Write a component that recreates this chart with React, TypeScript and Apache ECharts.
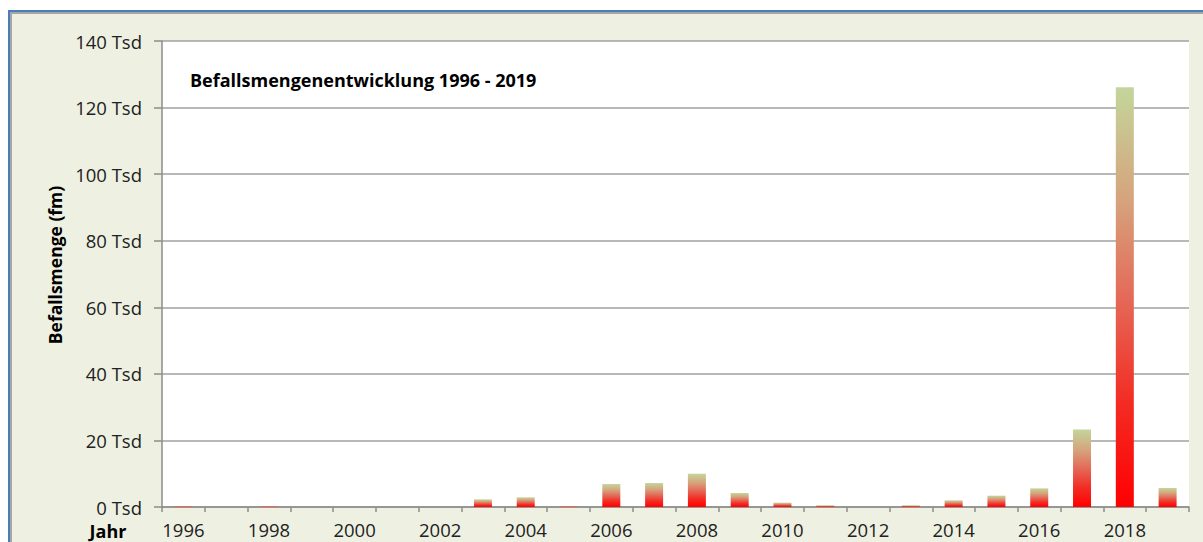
import React, { useEffect, useRef } from "react";
import * as echarts from "echarts";

const years = [
  "1996", "1997", "1998", "1999", "2000", "2001", "2002", "2003", "2004", "2005", "2006", "2007",
  "2008", "2009", "2010", "2011", "2012", "2013", "2014", "2015", "2016", "2017", "2018", "2019",
];
const befallsmenge = [
  300, 0, 300, 0, 0, 0, 0, 2300, 2900, 300, 6900, 7200,
  10000, 4200, 1300, 500, 0, 500, 2000, 3400, 5600, 23300, 126100, 5700,
];
const yTicks = [0, 20000, 40000, 60000, 80000, 100000, 120000, 140000];
const titleText = "Befallsmengenentwicklung 1996 - 2019";
const yAxisName = "Befallsmenge (fm)";
const xAxisName = "Jahr";

const FONT = "'Open Sans', 'Noto Sans', sans-serif";

export default function App() {
  const ref = useRef<HTMLDivElement>(null);
  useEffect(() => {
    if (!ref.current) return;
    const chart = echarts.init(ref.current, null, { renderer: "svg" });
    const barColor = new echarts.graphic.LinearGradient(0, 0, 0, 1, [
      { offset: 0, color: "#c3d69b" },
      { offset: 0.27, color: "#d6a37c" },
      { offset: 0.5, color: "#e46a58" },
      { offset: 0.75, color: "#f32c24" },
      { offset: 1, color: "#ff0000" },
    ]);
    chart.setOption({
      animation: false,
      backgroundColor: "#ffffff",
      graphic: [
        { type: "rect", z: -10, silent: true, shape: { x: 8, y: 10, width: 1195, height: 532 }, style: { fill: "#4a7ebb" } },
        { type: "rect", z: -9, silent: true, shape: { x: 10, y: 12, width: 1193, height: 530 }, style: { fill: "#a6a6a6" } },
        { type: "rect", z: -8, silent: true, shape: { x: 12, y: 14, width: 1191, height: 528 }, style: { fill: "#eef1e1" } },
        {
          type: "text",
          x: 190,
          y: 80,
          style: { text: titleText, font: `bold 18px ${FONT}`, fill: "#000000", verticalAlign: "middle" },
        },
        {
          type: "text",
          x: 108,
          y: 531,
          style: { text: xAxisName, font: `bold 18px ${FONT}`, fill: "#000000", align: "center", verticalAlign: "middle" },
        },
        {
          type: "text",
          x: 55,
          y: 265,
          rotation: Math.PI / 2,
          style: { text: yAxisName, font: `bold 17.5px ${FONT}`, fill: "#000000", align: "center", verticalAlign: "middle" },
        },
      ],
      grid: {
        left: 162,
        top: 41,
        right: 14,
        bottom: 35,
        show: true,
        backgroundColor: "#ffffff",
        borderWidth: 0,
      },
      xAxis: {
        type: "category",
        data: years,
        axisLine: { show: true, lineStyle: { color: "#8c8c8c", width: 1.5 } },
        axisTick: { show: true, interval: 0, length: 5, lineStyle: { color: "#8c8c8c", width: 1.5 } },
        axisLabel: {
          interval: 1,
          margin: 13,
          fontFamily: FONT,
          fontSize: 18.5,
          color: "#222222",
        },
        splitLine: { show: false },
      },
      yAxis: {
        type: "value",
        min: 0,
        max: 140000,
        interval: 20000,
        axisLine: { show: true, lineStyle: { color: "#8c8c8c", width: 1.5 } },
        axisTick: { show: true, length: 8, lineStyle: { color: "#8c8c8c", width: 1.5 } },
        axisLabel: {
          margin: 20,
          fontFamily: FONT,
          fontSize: 18.5,
          color: "#222222",
          formatter: (v: number) => (yTicks.includes(v) ? `${v / 1000} Tsd` : ""),
        },
        splitLine: { show: true, lineStyle: { color: "#a0a0a0", width: 1.5 } },
      },
      series: [
        {
          type: "bar",
          data: befallsmenge,
          barWidth: 18,
          itemStyle: { color: barColor },
        },
      ],
    });
    return () => chart.dispose();
  }, []);
  return (
    <div style={{ position: "fixed", left: 0, top: 0, width: 1203, height: 542 }}>
      <div ref={ref} style={{ width: 1203, height: 542 }} />
    </div>
  );
}
